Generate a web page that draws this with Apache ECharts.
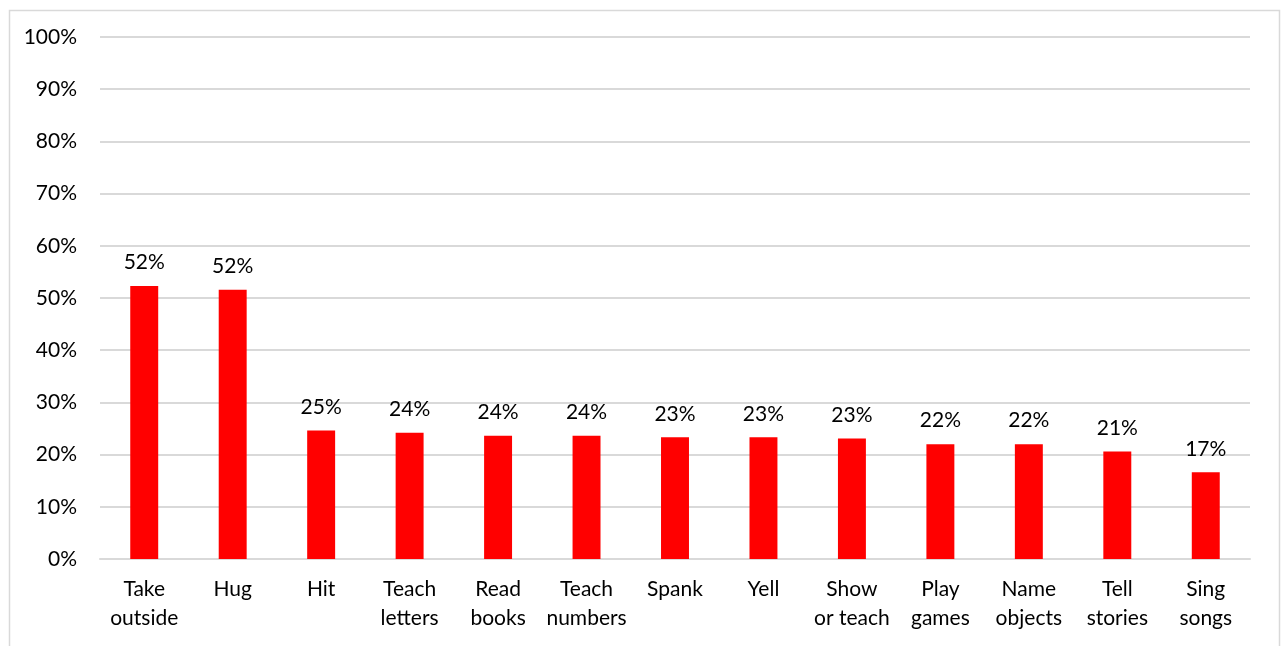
<!DOCTYPE html>
<html>
<head>
<meta charset="utf-8">
<script src="https://cdn.jsdelivr.net/npm/echarts@6/dist/echarts.min.js"></script>
<style>
html,body{margin:0;padding:0;background:#fff;}
#chart{width:1281px;height:646px;}
</style>
</head>
<body>
<div id="chart"></div>
<script>
const categories = ["Take\noutside","Hug","Hit","Teach\nletters","Read\nbooks","Teach\nnumbers","Spank","Yell","Show\nor teach","Play\ngames","Name\nobjects","Tell\nstories","Sing\nsongs"];
const values = [52.3, 51.6, 24.6, 24.2, 23.6, 23.6, 23.3, 23.3, 23.1, 22.0, 22.0, 20.6, 16.6];
const yTicks = [0,10,20,30,40,50,60,70,80,90,100];

const FONT = "Lato, 'Open Sans', sans-serif";
const chart = echarts.init(document.getElementById('chart'));
chart.setOption({
  animation: false,
  backgroundColor: '#fff',
  graphic: [{
    type: 'rect', left: 7, top: 8, silent: true,
    shape: {width: 1270, height: 660},
    style: {fill: 'none', stroke: '#d9d9d9', lineWidth: 1.5}
  }],
  grid: {left: 100, right: 31, top: 37, bottom: 87, containLabel: false},
  xAxis: {
    type: 'category',
    data: categories,
    axisLine: {show: true, lineStyle: {color: '#d9d9d9', width: 2}},
    axisTick: {show: false},
    axisLabel: {fontFamily: FONT, fontSize: 21, color: '#000', margin: 16, lineHeight: 29, interval: 0, align: 'center'}
  },
  yAxis: {
    type: 'value', min: 0, max: 100, interval: 10,
    axisLine: {show: false}, axisTick: {show: false},
    splitLine: {lineStyle: {color: '#d9d9d9', width: 2}},
    axisLabel: {fontFamily: FONT, fontSize: 21, color: '#000', margin: 23,
      formatter: v => yTicks.includes(v) ? v + '%' : ''}
  },
  series: [{
    type: 'bar',
    data: values,
    barWidth: '31.6%',
    itemStyle: {color: '#ff0000'},
    label: {show: true, position: 'top', distance: 13, fontFamily: FONT, fontSize: 21, color: '#000',
      formatter: p => Math.round(p.value) + '%'}
  }]
});
</script>
</body>
</html>
